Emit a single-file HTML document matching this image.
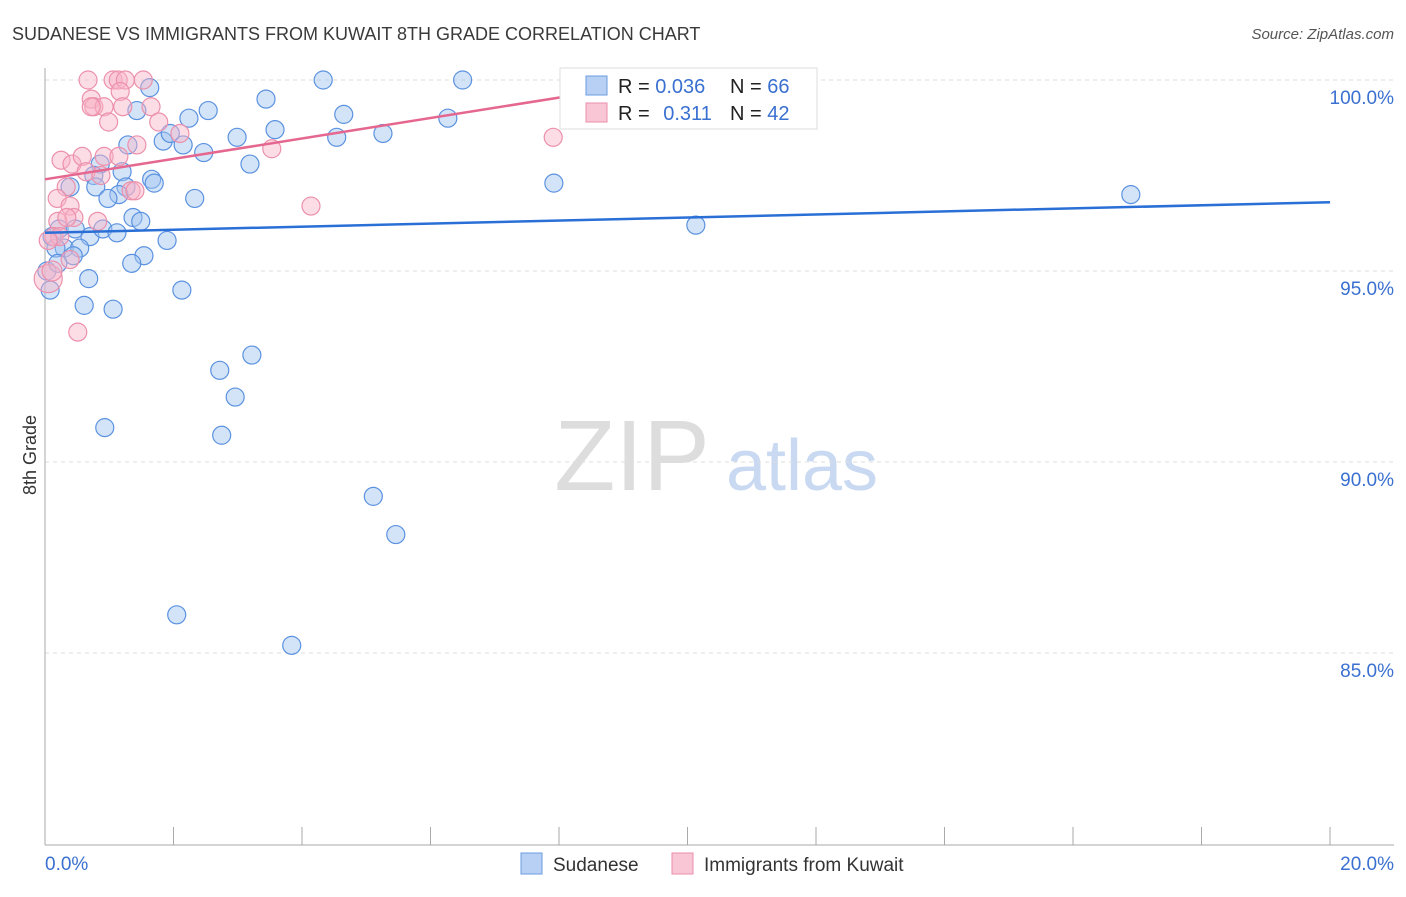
<!DOCTYPE html>
<html><head><meta charset="utf-8"><style>
body{margin:0;background:#fff;font-family:"Liberation Sans",sans-serif;}
svg text{font-family:"Liberation Sans",sans-serif;}
</style></head><body>
<svg id="chart" width="1406" height="892" xmlns="http://www.w3.org/2000/svg">
<text x="12" y="40" font-size="18" fill="#3a3a3a">SUDANESE VS IMMIGRANTS FROM KUWAIT 8TH GRADE CORRELATION CHART</text>
<text x="1394" y="39" font-size="15" fill="#555" font-style="italic" text-anchor="end">Source: ZipAtlas.com</text>
<text x="36" y="455" font-size="18" fill="#333" transform="rotate(-90 36 455)" text-anchor="middle">8th Grade</text>
<g>
<text x="632" y="490" font-size="100" fill="#ddd" text-anchor="middle" font-family="Liberation Serif,serif">ZIP</text>
<text x="802" y="490" font-size="72" fill="#c9d9f2" text-anchor="middle">atlas</text>
</g>
<g id="grid"></g><g id="pts"></g><g id="lines"></g>
<g>
<rect x="560" y="68" width="257" height="61" fill="#fff" stroke="#ddd"/>
<rect x="586" y="76" width="21" height="19" fill="#b7d0f3" stroke="#6a9be0"/>
<rect x="586" y="103" width="21" height="19" fill="#f9c6d5" stroke="#eb8fab"/>
<text x="618" y="93" font-size="20" fill="#222">R = <tspan fill="#3a70d0">0.036</tspan></text>
<text x="730" y="93" font-size="20" fill="#222">N = <tspan fill="#3a70d0">66</tspan></text>
<text x="618" y="120" font-size="20" fill="#222">R = <tspan fill="#3a70d0" dx="8">0.311</tspan></text>
<text x="730" y="120" font-size="20" fill="#222">N = <tspan fill="#3a70d0">42</tspan></text>
</g>
<g>
<rect x="521" y="853" width="21" height="21" fill="#b7d0f3" stroke="#6a9be0"/>
<text x="553" y="871" font-size="19" fill="#333">Sudanese</text>
<rect x="672" y="853" width="21" height="21" fill="#f9c6d5" stroke="#eb8fab"/>
<text x="704" y="871" font-size="19" fill="#333">Immigrants from Kuwait</text>
</g>
<text x="45" y="870" font-size="19" fill="#3a70d0">0.0%</text>
<text x="1394" y="870" font-size="19" fill="#3a70d0" text-anchor="end">20.0%</text>
</svg>
<script>
const yTicks=[100,95,90,85];
const yTickLabels=["100.0%","95.0%","90.0%","85.0%"];
const xTicks=[0,2,4,6,8,10,12,14,16,18,20];
const sudaneseX=[1.63,4.33,6.5,1.43,2.24,2.54,3.44,4.65,6.27,3.58,2.99,5.26,4.54,1.84,1.95,2.15,1.29,2.47,3.19,0.86,0.76,1.2,0.39,0.79,1.26,1.15,0.98,1.66,1.7,2.33,1.37,1.49,0.22,0.47,0.7,0.9,1.12,0.11,7.92,16.9,10.13,1.9,0.3,0.54,0.17,0.44,1.54,1.35,0.68,2.13,0.08,0.61,1.06,3.22,2.72,2.96,0.93,2.75,5.11,5.46,2.05,3.84,0.03,0.2];
const sudaneseY=[99.8,100,100,99.2,99.0,99.2,99.5,99.1,99.0,98.7,98.5,98.6,98.5,98.4,98.6,98.3,98.3,98.1,97.8,97.8,97.5,97.6,97.2,97.2,97.2,97.0,96.9,97.4,97.3,96.9,96.4,96.3,96.1,96.1,95.9,96.1,96.0,95.9,97.3,97.0,96.2,95.8,95.6,95.6,95.6,95.4,95.4,95.2,94.8,94.5,94.5,94.1,94.0,92.8,92.4,91.7,90.9,90.7,89.1,88.1,86.0,85.2,95.0,95.2];
const kuwaitX=[0.67,1.06,1.14,1.25,1.53,1.17,0.72,0.76,0.92,0.72,0.99,1.65,1.21,1.77,2.1,1.43,0.25,0.42,0.58,0.92,1.15,0.64,0.87,1.34,1.4,0.33,0.19,0.39,0.45,0.82,0.2,0.34,0.14,0.39,0.05,3.53,4.14,7.91,0.51,0.23,0.05,0.11];
const kuwaitY=[100,100,100,100,100,99.7,99.5,99.3,99.3,99.3,98.9,99.3,99.3,98.9,98.6,98.3,97.9,97.8,98.0,98.0,98.0,97.6,97.5,97.1,97.1,97.2,96.9,96.7,96.4,96.3,96.3,96.4,95.9,95.3,94.8,98.2,96.7,98.5,93.4,95.9,95.8,95.0];
const kuwaitR=[9,9,9,9,9,9,9,9,9,9,9,9,9,9,9,9,9,9,9,9,9,9,9,9,9,9,9,9,9,9,9,9,9,9,14,9,9,9,9,9,9,10];
const blueTrend=[[0,96.0],[20,96.8]];
const pinkTrend=[[0,97.4],[8.6,99.7]];
const X0=45,X1=1330,Y100=80,PER=38.2;
const xs=v=>X0+(v/20)*(X1-X0);
const ys=v=>Y100+(100-v)*PER;
const NS="http://www.w3.org/2000/svg";
function mk(tag,attrs,parent){const e=document.createElementNS(NS,tag);for(const k in attrs)e.setAttribute(k,attrs[k]);parent.appendChild(e);return e;}
const grid=document.getElementById('grid');
yTicks.forEach((t,i)=>{
 const l=mk('line',{x1:X0,x2:1394,y1:ys(t),y2:ys(t),stroke:'#ddd','stroke-dasharray':'4,4'},grid);
 
 
 const tx=mk('text',{x:1394,y:ys(t)+24,'font-size':19,fill:'#3a70d0','text-anchor':'end'},grid);
 tx.textContent=yTickLabels[i];
 
 
});
const ax=mk('line',{x1:X0,x2:X0,y1:68,y2:845,stroke:'#aaa'},grid);


const bx=mk('line',{x1:X0,x2:1394,y1:845,y2:845,stroke:'#aaa'},grid);


xTicks.forEach(t=>{
 const l=mk('line',{x1:xs(t),x2:xs(t),y1:827,y2:845,stroke:'#aaa'},grid);
 
 
});
const pts=document.getElementById('pts');
sudaneseX.forEach((x,i)=>{
 const c=mk('circle',{cx:xs(x),cy:ys(sudaneseY[i]),r:9,fill:'rgba(160,195,240,0.45)',stroke:'#5b92e0','stroke-width':1.2},pts);
 
 
});
kuwaitX.forEach((x,i)=>{
 const c=mk('circle',{cx:xs(x),cy:ys(kuwaitY[i]),r:kuwaitR[i],fill:'rgba(248,180,200,0.45)',stroke:'#ec90ab','stroke-width':1.2},pts);
 
 
});
const lines=document.getElementById('lines');
const bl=mk('line',{x1:xs(blueTrend[0][0]),y1:ys(blueTrend[0][1]),x2:xs(blueTrend[1][0]),y2:ys(blueTrend[1][1]),stroke:'#2a6fd6','stroke-width':2.5},lines);


const pl=mk('line',{x1:xs(pinkTrend[0][0]),y1:ys(pinkTrend[0][1]),x2:xs(pinkTrend[1][0]),y2:ys(pinkTrend[1][1]),stroke:'#e5668e','stroke-width':2.5},lines);


</script>
</body></html>
